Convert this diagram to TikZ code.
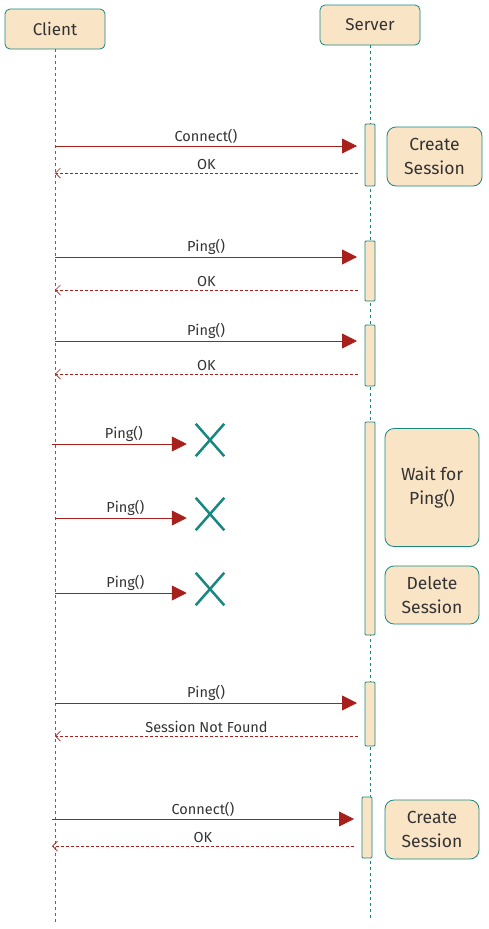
\documentclass[tikz,border=0pt]{standalone}
\usepackage{fontspec}
\setmainfont{Fira Sans}
\usetikzlibrary{arrows.meta}
\usetikzlibrary{shapes.misc}

\definecolor{boxfill}{HTML}{FAE4C6}
\definecolor{boxline}{HTML}{17877F}
\definecolor{msgred}{HTML}{A8201C}
\definecolor{textgray}{HTML}{333333}

\tikzset{
  head/.style={draw=boxline, fill=boxfill, rounded corners=5pt, line width=0.8pt,
    minimum width=100pt, minimum height=40pt, text=textgray, font=\fontsize{17}{20}\selectfont},
  life/.style={draw=boxline, line width=0.7pt, dash pattern=on 3pt off 3pt},
  bar/.style={draw=boxline, fill=boxfill, line width=0.8pt, rounded corners=1pt,
    minimum width=10pt, inner sep=0pt},
  note/.style={draw=boxline, fill=boxfill, rounded corners=9pt, line width=0.8pt,
    minimum width=95pt, align=center, text=textgray, font=\fontsize{17.5}{24}\selectfont},
  call/.style={draw=msgred, line width=0.8pt, -{Triangle[length=15pt,width=15pt]}},
  reply/.style={draw=msgred, line width=0.7pt, dash pattern=on 3pt off 2pt,
    -{Straight Barb[length=5pt,width=10pt,line width=0.7pt]}},
  lbl/.style={above, inner sep=2.5pt, text=textgray, font=\fontsize{14.5}{16}\selectfont},
  lost/.style={cross out, draw=boxline, line width=2.5pt, minimum width=26pt, minimum height=30pt, inner sep=0pt},
}

\begin{document}
\begin{tikzpicture}[x=1pt,y=-1pt]
  \useasboundingbox (0,0) rectangle (488,929);
  % participants
  \node[head] (client) at (55,29) {Client};
  \node[head] (server) at (370,25) {Server};
  \coordinate (clientend) at (55,922);
  \coordinate (serverend) at (370,918);
  \draw[life] (client) -- (clientend);
  \draw[life] (server) -- (serverend);

  % activations
  \node[bar, minimum height=62pt] (act1) at (370,155) {};
  \node[bar, minimum height=60pt] (act2) at (370,271) {};
  \node[bar, minimum height=61pt] (act3) at (370,355.5) {};
  \node[bar, minimum height=213pt] (act4) at (370,528.5) {};
  \node[bar, minimum height=64pt] (act5) at (370,714) {};
  \node[bar, minimum height=61pt] (act6) at (367,827.5) {};

  % notes
  \node[note, minimum height=59pt] (create1) at (434.5,156.5) {Create\\Session};
  \node[note, minimum height=118pt, minimum width=94pt] (wait) at (432,487.5) {Wait for\\Ping()};
  \node[note, minimum height=58pt, minimum width=94pt] (delete) at (432,595) {Delete\\Session};
  \node[note, minimum height=59pt, minimum width=94pt] (create2) at (432,829.5) {Create\\Session};

  % connect
  \coordinate (c1) at (55,146);
  \coordinate (s1) at (357,146);
  \coordinate (s1r) at (358,173);
  \coordinate (c1r) at (55,173);
  \draw[call] (c1) -- node[lbl] {Connect()} (s1);
  \draw[reply] (s1r) -- node[lbl] {OK} (c1r);

  % pings
  \coordinate (c2) at (55,257);
  \coordinate (s2) at (357,257);
  \coordinate (s2r) at (358,290);
  \coordinate (c2r) at (55,290);
  \draw[call] (c2) -- node[lbl] {Ping()} (s2);
  \draw[reply] (s2r) -- node[lbl] {OK} (c2r);

  \coordinate (c3) at (55,341);
  \coordinate (s3) at (357,341);
  \coordinate (s3r) at (358,374);
  \coordinate (c3r) at (55,374);
  \draw[call] (c3) -- node[lbl] {Ping()} (s3);
  \draw[reply] (s3r) -- node[lbl] {OK} (c3r);

  % lost pings
  \node[lost] (lost1) at (210,440) {};
  \node[lost] (lost2) at (210,514) {};
  \node[lost] (lost3) at (210,589) {};
  \coordinate (c4) at (52,444);
  \coordinate (c5) at (55,518);
  \coordinate (c6) at (55,593);
  \draw[call, shorten >=9pt] (c4) -- node[lbl] {Ping()} (c4 -| lost1.west) ;
  \draw[call, shorten >=9pt] (c5) -- node[lbl] {Ping()} (c5 -| lost2.west) ;
  \draw[call, shorten >=9pt] (c6) -- node[lbl] {Ping()} (c6 -| lost3.west) ;

  % session gone
  \coordinate (c7) at (55,703);
  \coordinate (s7) at (357,703);
  \coordinate (s7r) at (358,736);
  \coordinate (c7r) at (55,736);
  \draw[call] (c7) -- node[lbl] {Ping()} (s7);
  \draw[reply] (s7r) -- node[lbl] {Session Not Found} (c7r);

  % reconnect
  \coordinate (c8) at (52,819);
  \coordinate (s8) at (354,819);
  \coordinate (s8r) at (354,846);
  \coordinate (c8r) at (52,846);
  \draw[call] (c8) -- node[lbl] {Connect()} (s8);
  \draw[reply] (s8r) -- node[lbl] {OK} (c8r);
\end{tikzpicture}
\end{document}
